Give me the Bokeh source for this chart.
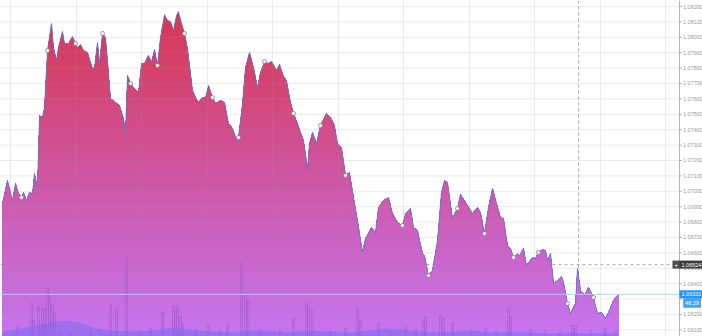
import numpy as np
from bokeh.plotting import figure
from bokeh.models import Range1d, FixedTicker, Span, Label
from bokeh.core.properties import value
from bokeh.embed import file_html
from bokeh.resources import INLINE

# ---- data ----
times = [2, 7, 12, 15, 18, 21, 23, 26, 29, 32,
         34, 37, 39, 42, 44, 47, 51, 53, 56, 58,
         62, 64, 68, 72, 75, 77, 80, 83, 87, 92,
         94, 97, 99, 102, 105, 107, 110, 115, 119, 123,
         125, 127, 130, 133, 138, 141, 144, 148, 151, 154,
         157, 160, 164, 167, 170, 173, 176, 178, 181, 184,
         187, 192, 195, 198, 202, 205, 208, 212, 215, 220,
         224, 228, 232, 237, 238, 242, 245, 249, 253, 257,
         260, 264, 268, 271, 276, 279, 283, 286, 289, 293,
         297, 300, 303, 307, 309, 312, 316, 320, 326, 330,
         334, 337, 341, 345, 349, 353, 357, 362, 365, 371,
         375, 378, 383, 388, 392, 397, 402, 405, 410, 413,
         417, 422, 424, 428, 432, 437, 441, 444, 447, 452,
         457, 460, 467, 472, 477, 480, 484, 488, 492, 496,
         500, 503, 507, 510, 513, 517, 519, 523, 526, 532,
         535, 538, 542, 545, 547, 550, 553, 557, 561, 563,
         567, 570, 575, 577, 580, 584, 588, 593, 597, 601,
         605, 608, 613, 618]
prices = [1.06921, 1.07070, 1.06940, 1.07051, 1.06986, 1.06960, 1.06992, 1.06940, 1.06992, 1.06986,
          1.07116, 1.07025, 1.07492, 1.07479, 1.07544, 1.07914, 1.08090, 1.07934, 1.07849, 1.07934,
          1.08038, 1.07960, 1.07960, 1.08005, 1.07960, 1.07934, 1.07953, 1.07914, 1.07901, 1.07797,
          1.07804, 1.07966, 1.07830, 1.08025, 1.07999, 1.07849, 1.07603, 1.07577, 1.07557, 1.07473,
          1.07375, 1.07752, 1.07700, 1.07674, 1.07642, 1.07830, 1.07830, 1.07882, 1.07836, 1.07921,
          1.07817, 1.07999, 1.08148, 1.08109, 1.08103, 1.08044, 1.08142, 1.08168, 1.08090, 1.08025,
          1.07927, 1.07655, 1.07609, 1.07577, 1.07609, 1.07609, 1.07687, 1.07609, 1.07570, 1.07590,
          1.07577, 1.07440, 1.07408, 1.07317, 1.07349, 1.07570, 1.07804, 1.07901, 1.07804, 1.07674,
          1.07771, 1.07843, 1.07830, 1.07843, 1.07784, 1.07823, 1.07745, 1.07719, 1.07609, 1.07505,
          1.07440, 1.07382, 1.07330, 1.07148, 1.07310, 1.07382, 1.07310, 1.07427, 1.07505, 1.07479,
          1.07427, 1.07310, 1.07284, 1.07103, 1.07122, 1.06960, 1.06810, 1.06603, 1.06694, 1.06765,
          1.06732, 1.06895, 1.06940, 1.06960, 1.06856, 1.06797, 1.06778, 1.06856, 1.06888, 1.06765,
          1.06745, 1.06596, 1.06583, 1.06453, 1.06486, 1.06681, 1.06992, 1.07070, 1.07057, 1.06823,
          1.06888, 1.06979, 1.06908, 1.06856, 1.06895, 1.06862, 1.06726, 1.06895, 1.07018, 1.06921,
          1.06830, 1.06823, 1.06648, 1.06629, 1.06570, 1.06596, 1.06583, 1.06629, 1.06518, 1.06570,
          1.06564, 1.06603, 1.06622, 1.06616, 1.06551, 1.06596, 1.06401, 1.06421, 1.06447, 1.06408,
          1.06271, 1.06206, 1.06271, 1.06499, 1.06356, 1.06323, 1.06375, 1.06310, 1.06206, 1.06213,
          1.06174, 1.06213, 1.06291, 1.06331]

marker_times = [21, 47, 75, 102, 130, 157, 184, 212, 238, 264, 293,
                320, 345, 402, 428, 457, 484, 513, 538, 567, 593]

vol_t = [17, 31, 33, 38, 42, 44, 47, 49, 52, 54,
         60, 70, 90, 100, 110, 116, 126, 140, 150, 162,
         173, 175, 177, 180, 182, 195, 208, 220, 227, 241,
         245, 248, 260, 280, 293, 306, 308, 312, 330, 345,
         357, 360, 378, 390, 405, 415, 423, 425, 440, 443,
         452, 470, 485, 495, 508, 510, 530, 545, 560, 572,
         575, 590, 605, 615]
vol_v = [90, 330, 160, 300, 280, 280, 480, 430, 310, 230,
         60, 50, 70, 60, 320, 290, 790, 50, 80, 240,
         310, 250, 290, 200, 130, 60, 110, 50, 110, 730,
         430, 360, 70, 60, 180, 330, 280, 260, 50, 80,
         280, 160, 140, 60, 90, 70, 160, 200, 210, 190,
         140, 60, 80, 50, 290, 200, 70, 60, 50, 110,
         110, 60, 80, 50]

ma_t = [2, 20, 40, 55, 65, 80, 95, 110, 130, 150,
        170, 190, 210, 230, 250, 270, 290, 310, 330, 350,
        370, 385, 400, 420, 440, 460, 470, 490, 510, 530,
        550, 570, 590, 610, 618]
ma_v = [50, 80, 120, 150, 160, 140, 80, 60, 50, 60,
        90, 70, 50, 40, 60, 50, 40, 60, 50, 40,
        60, 80, 70, 50, 40, 50, 60, 40, 50, 40,
        30, 40, 30, 30, 30]

grid_times = [10, 75.5, 141, 206.5, 272, 337.5, 403, 468.5, 534, 599.5, 665]
price_ticks = [round(1.061 + 0.001 * k, 3) for k in range(22)]
tick_labels = ["%.5f" % v for v in price_ticks]
last_price = 1.06331
cross_price = 1.06524
cross_time = 578
countdown = "46:29"
countdown_at = 1.06276

# time positions of the price-axis column (right edge of the chart)
axis_time = 679
time_end = 702

# ---- figure ----
Y0, Y1 = 1.06057, 1.08239
p = figure(width=702, height=336, output_backend="svg", toolbar_location=None,
           x_range=Range1d(0, time_end), y_range=Range1d(Y0, Y1),
           x_axis_location=None, y_axis_location=None, min_border=0)
p.extra_y_ranges = {"vol": Range1d(0, 3360)}
p.outline_line_color = None
p.background_fill_color = "white"
p.border_fill_color = "white"

GRID_C, GRID_A = "#9a9a9a", 0.2
p.xgrid.ticker = FixedTicker(ticks=grid_times)
p.xgrid.grid_line_color = GRID_C
p.xgrid.grid_line_alpha = GRID_A
p.xgrid.level = "guide"
p.ygrid.visible = False

# crosshair (behind the fill)
p.add_layout(Span(location=cross_time, dimension="height", line_color="#aaaaaa",
                  line_dash="3 3", line_width=1, level="underlay"))
p.add_layout(Span(location=cross_price, dimension="width", line_color="#aaaaaa",
                  line_dash="3 3", line_width=1, level="underlay"))

# ---- gradient area: stacked layers clipped to the price line ----
t = np.array(times, dtype=float)
pr = np.array(prices)
n = 70
levels = np.linspace(Y0, Y1, n + 1)
xs = [t]
for i in range(len(t) - 1):
    a, b = pr[i], pr[i + 1]
    if a != b:
        lo, hi = min(a, b), max(a, b)
        ls = levels[(levels > lo) & (levels < hi)]
        xs.append(t[i] + (ls - a) / (b - a) * (t[i + 1] - t[i]))
xr = np.unique(np.concatenate(xs))
yr = np.interp(xr, t, pr)

top_c = np.array([216, 54, 78])
bot_c = np.array([198, 116, 242])
c_hi, c_lo = 1.0818, 1.0606
for k in range(n - 1, -1, -1):
    lo, hi = levels[k], levels[k + 1]
    if lo > pr.max():
        continue
    mid = 0.5 * (lo + hi)
    f = min(max((mid - c_lo) / (c_hi - c_lo), 0), 1)
    c = bot_c + f * (top_c - bot_c)
    col = "#%02x%02x%02x" % tuple(int(round(v)) for v in c)
    p.varea(x=xr, y1=Y0, y2=np.minimum(yr, hi), fill_color=col, fill_alpha=1.0)

# ---- volume ----
p.vbar(x=vol_t, top=vol_v, bottom=0, width=2.0, y_range_name="vol",
       fill_color="#b566dc", fill_alpha=0.3, line_color="#9a55c8", line_alpha=0.6, line_width=0.7)
p.varea(x=ma_t, y1=0, y2=ma_v, y_range_name="vol", fill_color="#7d6af0", fill_alpha=0.55)

# ---- price line and markers ----
p.line(times, prices, line_color="#6079c8", line_width=1.0, line_alpha=0.85)
mp = np.interp(marker_times, t, pr)
p.scatter(marker_times, mp, size=4, fill_color="white", line_color="#808080", line_width=0.8)

# horizontal grid lines (end at the price axis)
p.segment(x0=0, x1=axis_time, y0=price_ticks, y1=price_ticks,
          line_color=GRID_C, line_alpha=GRID_A, line_width=1, level="guide")

# last price line
p.add_layout(Span(location=last_price, dimension="width", line_color="#a6d8ee", line_width=1))

# ---- price axis on the right ----
p.add_layout(Span(location=axis_time, dimension="height", line_color="#b5b5b5", line_width=1))
p.segment(x0=axis_time, x1=axis_time + 2.5, y0=price_ticks, y1=price_ticks,
          line_color="#b5b5b5", line_width=1, level="annotation")
p.text(x=axis_time + 3.5, y=price_ticks, text=tick_labels,
       text_font=value("Liberation Sans"), text_font_size="5.5px",
       text_color="#9a9a9a", text_baseline="middle", text_align="left", level="annotation")

# badges on the axis
def badge(x, y, text, bg, align="left", size="5.5px"):
    p.add_layout(Label(x=x, y=y, text=text,
                       text_font="Liberation Sans", text_font_size=size, text_color="white",
                       text_baseline="middle", text_align=align,
                       background_fill_color=bg, padding=2, level="overlay"))

badge(axis_time - 7, cross_price, "+", "#505050", size="6px")
badge(axis_time, cross_price, "%.5f" % cross_price, "#3c3c3c")
badge(axis_time, last_price, "%.5f" % last_price, "#2196f3")
badge(time_end - 1.5, countdown_at, countdown, "#42a5f5", align="right")

open("out.html", "w").write(file_html(p, INLINE))
